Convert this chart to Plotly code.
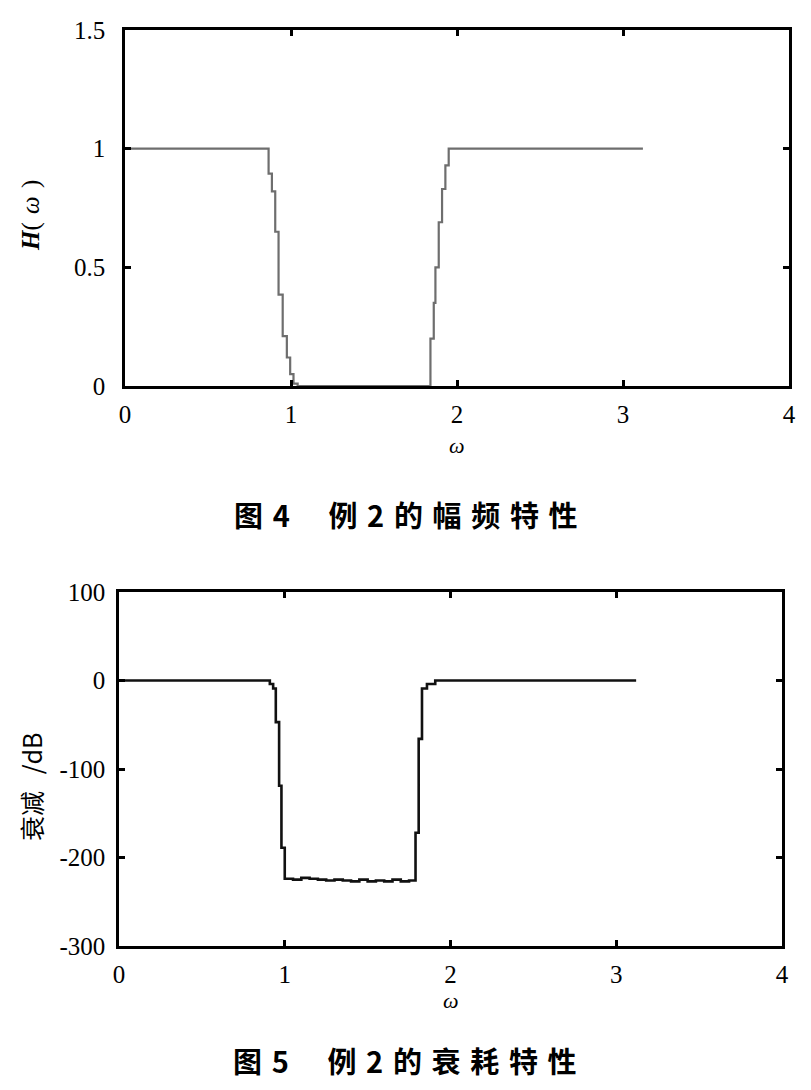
import plotly.graph_objects as go

# fig 4: magnitude response H(w)
w_mag = [0, 0.845, 0.865, 0.885, 0.905, 0.925, 0.95, 0.975, 0.995, 1.015, 1.04,
         1.81, 1.84, 1.86, 1.87, 1.89, 1.91, 1.93, 1.95, 3.12]
h_mag = [1.0, 1.0, 0.895, 0.82, 0.65, 0.385, 0.21, 0.12, 0.05, 0.01, 0.0,
         0.0, 0.2, 0.35, 0.5, 0.69, 0.83, 0.93, 1.0, 1.0]

# fig 5: attenuation in dB
w_att = [0, 0.87, 0.91, 0.93, 0.946, 0.966, 0.98, 1.0, 1.05, 1.1, 1.15, 1.2, 1.25,
         1.3, 1.35, 1.4, 1.45, 1.5, 1.55, 1.6, 1.65, 1.7, 1.75, 1.778,
         1.789, 1.808, 1.828, 1.858, 1.908, 3.12]
att_db = [0, 0, -4, -9, -47, -119, -189, -224, -225, -223, -224, -225, -226,
          -225, -226, -227, -225, -227, -226, -227, -225, -227, -226, -226,
          -172, -66, -9, -4, 0, 0]

x_ticks = [0, 1, 2, 3, 4]
mag_ticks = [0, 0.5, 1, 1.5]
mag_ticklabels = ["0", "0.5", "1", "1.5"]
att_ticks = [-300, -200, -100, 0, 100]
att_ticklabels = ["-300", "-200", "-100", "0", "100"]

W, H = 811, 1090
OFF = 8  # page body margin shifts the plot by ~8px
tick_font = dict(family="Liberation Serif", size=25, color="black")
SP = "\u2004"


def px_x(p):
    return (p - OFF) / W


def px_y(p):
    return 1 - (p - OFF) / H


fig = go.Figure()
fig.add_trace(go.Scatter(x=w_mag, y=h_mag, mode="lines", line_shape="hv",
                         line=dict(color="#6e6e6e", width=2.2),
                         xaxis="x", yaxis="y", showlegend=False))
fig.add_trace(go.Scatter(x=w_att, y=att_db, mode="lines", line_shape="hv",
                         line=dict(color="#111111", width=2.6),
                         xaxis="x2", yaxis="y2", showlegend=False))

axis_common = dict(showline=True, linecolor="black", linewidth=2.5, mirror="allticks",
                   ticks="inside", ticklen=6, tickwidth=2.5, tickcolor="black",
                   showgrid=False, zeroline=False, tickfont=tick_font,
                   automargin=False)

fig.update_layout(
    width=W, height=H,
    margin=dict(l=0, r=0, t=0, b=0, autoexpand=False),
    paper_bgcolor="white", plot_bgcolor="white",
    xaxis=dict(domain=[px_x(125), px_x(789)], range=[0, 4], tickvals=x_ticks,
               anchor="y", ticklabelstandoff=4, **axis_common),
    yaxis=dict(domain=[px_y(386), px_y(30)], range=[0, 1.5], tickvals=mag_ticks,
               ticktext=mag_ticklabels, anchor="x", ticklabelstandoff=12, **axis_common),
    xaxis2=dict(domain=[px_x(119), px_x(782)], range=[0, 4], tickvals=x_ticks,
                anchor="y2", ticklabelstandoff=4, **axis_common),
    yaxis2=dict(domain=[px_y(946), px_y(592)], range=[-300, 100], tickvals=att_ticks,
                ticktext=att_ticklabels, anchor="x2", ticklabelstandoff=6, **axis_common),
)

cap4 = SP.join(["图", "4\u3000", "例", "2", "的", "幅", "频", "特", "性"])
cap5 = SP.join(["图", "5\u3000", "例", "2", "的", "衰", "耗", "特", "性"])

notes = [
    dict(x=px_x(457), y=px_y(445), text="<i>ω</i>", font=dict(family="Liberation Serif", size=22)),
    dict(x=px_x(31), y=px_y(216), text="<b><i>H</i></b>(" + SP + "<i>ω</i>" + SP + ")", textangle=-90,
         font=dict(family="Liberation Serif", size=25)),
    dict(x=px_x(406), y=px_y(514), text="<b>" + cap4 + "</b>",
         font=dict(family="Noto Sans CJK SC", size=29)),
    dict(x=px_x(451), y=px_y(1000), text="<i>ω</i>", font=dict(family="Liberation Serif", size=22)),
    dict(x=px_x(31), y=px_y(787), text="衰减" + SP + SP + "/dB", textangle=-90,
         font=dict(family="Noto Sans CJK SC", size=25)),
    dict(x=px_x(405), y=px_y(1060), text="<b>" + cap5 + "</b>",
         font=dict(family="Noto Sans CJK SC", size=29)),
]
for n in notes:
    fig.add_annotation(xref="paper", yref="paper", showarrow=False,
                       xanchor="center", yanchor="middle",
                       text=n["text"], x=n["x"], y=n["y"],
                       textangle=n.get("textangle", 0),
                       font=dict(color="black", **n["font"]))

fig.write_html("out.html")
